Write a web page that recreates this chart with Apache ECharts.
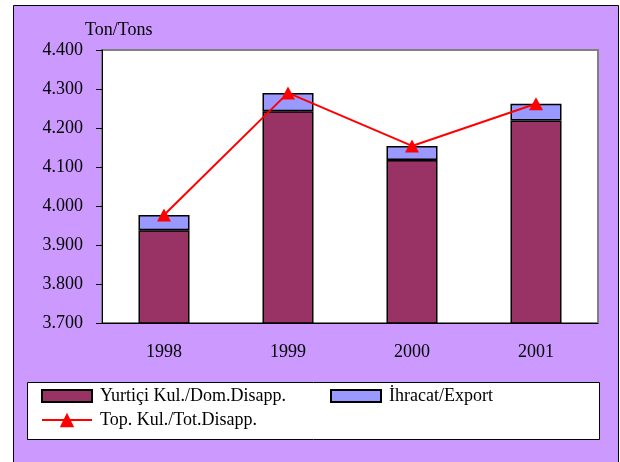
<!DOCTYPE html>
<html>
<head>
<meta charset="utf-8">
<script src="https://cdn.jsdelivr.net/npm/echarts@6/dist/echarts.min.js"></script>
<style>
  html, body { margin: 0; padding: 0; background: #fff; }
  #main { width: 620px; height: 462px; }
</style>
</head>
<body>
<div id="main"></div>
<script>
var years = ['1998', '1999', '2000', '2001'];
var domestic = [3938, 4243, 4118, 4219];
var exportVals = [39, 47, 36, 43];
var total = [3977, 4290, 4154, 4262];
var names = ['Yurtiçi Kul./Dom.Disapp.', 'İhracat/Export', 'Top. Kul./Tot.Disapp.'];

var font = 'Liberation Serif';
var myChart = echarts.init(document.getElementById('main'));

var legendText = { fontFamily: font, fontSize: 18, color: '#000', padding: [0, 0, 0, 3] };

var option = {
    animation: false,
    backgroundColor: '#fff',
    title: {
        text: 'Ton/Tons',
        left: 85, top: 21, padding: 0,
        textStyle: { fontFamily: font, fontSize: 18, fontWeight: 'normal', color: '#000' }
    },
    graphic: [
        {
            type: 'rect', z: -10,
            shape: { x: 13.5, y: 5.5, width: 605, height: 480 },
            style: { fill: '#CC99FF', stroke: '#000', lineWidth: 1 }
        },
        {
            type: 'rect', z: -5,
            shape: { x: 27.5, y: 382.5, width: 572, height: 57 },
            style: { fill: '#fff', stroke: '#000', lineWidth: 1 }
        }
    ],
    legend: [
        { data: [names[0]], icon: 'rect', left: 41, top: 387, padding: 0, itemWidth: 50, itemHeight: 12, textStyle: legendText },
        { data: [names[1]], icon: 'rect', left: 330, top: 387, padding: 0, itemWidth: 50, itemHeight: 12, textStyle: legendText },
        { data: [names[2]], left: 41, top: 411, padding: 0, itemWidth: 50, itemHeight: 18, textStyle: legendText }
    ],
    grid: {
        left: 102, right: 22, top: 50, bottom: 139,
        show: true, backgroundColor: '#fff', borderColor: '#808080', borderWidth: 2
    },
    xAxis: {
        type: 'category',
        data: years,
        axisLine: { lineStyle: { color: '#000', width: 1 } },
        axisTick: { length: 7, lineStyle: { color: '#000' } },
        axisLabel: { fontFamily: font, fontSize: 18, color: '#000', margin: 20 }
    },
    yAxis: {
        type: 'value',
        min: 3700, max: 4400, interval: 100,
        axisLine: { show: true, lineStyle: { color: '#000', width: 1 } },
        axisTick: { show: true, length: 6, lineStyle: { color: '#000' } },
        splitLine: { show: false },
        axisLabel: {
            fontFamily: font, fontSize: 18, color: '#000', margin: 19,
            formatter: function (v) { return (v / 1000).toFixed(3); }
        }
    },
    series: [
        {
            name: names[0], type: 'bar', stack: 'a', barWidth: 51,
            data: domestic,
            itemStyle: { color: '#993366', borderColor: '#000', borderWidth: 1.5 }
        },
        {
            name: names[1], type: 'bar', stack: 'a', barWidth: 51,
            data: exportVals,
            itemStyle: { color: '#9999FF', borderColor: '#000', borderWidth: 1.5 }
        },
        {
            name: names[2], type: 'line', z: 5,
            data: total,
            symbol: 'triangle', symbolSize: [14, 13],
            lineStyle: { color: '#FF0000', width: 2 },
            itemStyle: { color: '#FF0000' }
        }
    ]
};

myChart.setOption(option);
</script>
</body>
</html>
